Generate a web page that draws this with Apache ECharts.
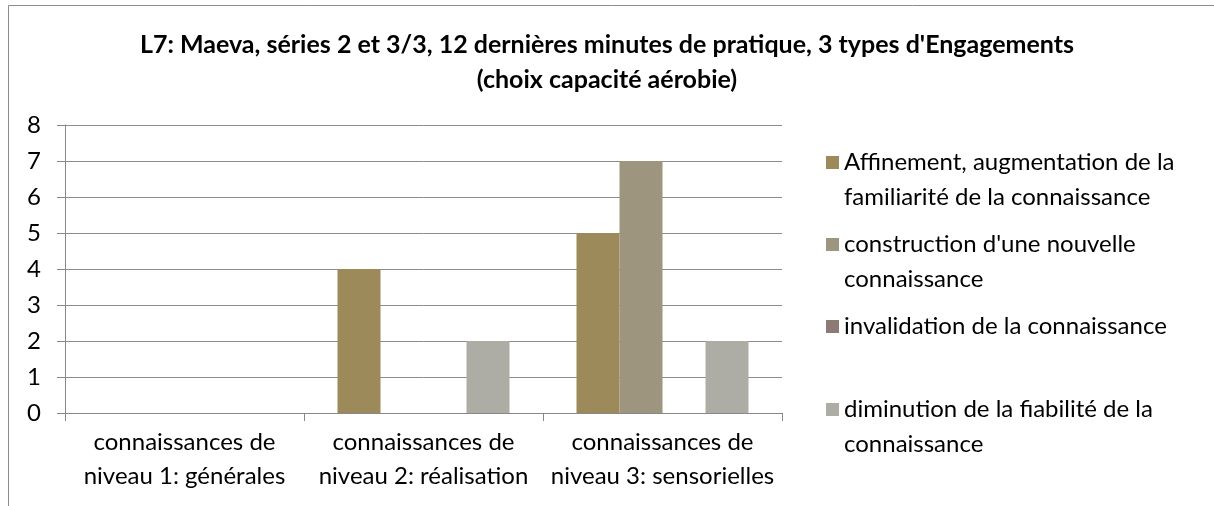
<!DOCTYPE html>
<html>
<head>
<meta charset="utf-8">
<script src="https://cdn.jsdelivr.net/npm/echarts@6/dist/echarts.min.js"></script>
<style>
  html, body { margin: 0; padding: 0; background: #fff; }
  #chart { width: 1214px; height: 506px; }
</style>
</head>
<body>
<div id="chart"></div>
<script>
// data
const categories = [
    'connaissances de\nniveau 1: générales',
    'connaissances de\nniveau 2: réalisation',
    'connaissances de\nniveau 3: sensorielles'
]
const seriesNames = [
    'Affinement, augmentation de la\nfamiliarité de la connaissance',
    'construction d\'une nouvelle\nconnaissance',
    'invalidation de la connaissance',
    'diminution de la fiabilité de la\nconnaissance'
]
const affinement = [0, 4, 5]
const construction = [0, 0, 7]
const invalidation = [0, 0, 0]
const diminution = [0, 2, 2]
const yTicks = [0, 1, 2, 3, 4, 5, 6, 7, 8]

const colorList = ['#9C8A5A', '#9D957E', '#8C7B74', '#ADADA6']
const values = [affinement, construction, invalidation, diminution]
const font = 'Lato'
const legendTops = [110, 192, 309, 357]

const chart = echarts.init(document.getElementById('chart'))

const series = values.map((v, i) => ({
    name: seriesNames[i],
    type: 'bar',
    data: v,
    barWidth: 43,
    barGap: '0%',
    itemStyle: { color: colorList[i] }
}))

// one legend per item so the single-line entry keeps the same spacing,
// an empty first line keeps the square beside the first line of text
const legends = seriesNames.map((n, i) => ({
    data: [n],
    orient: 'vertical',
    left: 826,
    top: legendTops[i],
    padding: 0,
    icon: 'rect',
    itemWidth: 13,
    itemHeight: 13,
    selectedMode: false,
    formatter: name => (name.indexOf('\n') >= 0 ? '\n' + name : name),
    textStyle: {
        fontFamily: font,
        fontSize: 24,
        color: '#000',
        lineHeight: 35
    }
}))

const option = {
    animation: false,
    color: colorList,
    title: {
        text: 'L7: Maeva, séries 2 et 3/3, 12 dernières minutes de pratique, 3 types d\'Engagements\n(choix capacité aérobie)',
        left: 'center',
        top: 27,
        padding: [0, 0, 0, 14],
        textStyle: {
            fontFamily: font,
            fontSize: 25,
            fontWeight: 'bold',
            color: '#000',
            lineHeight: 35,
            align: 'center'
        }
    },
    legend: legends,
    grid: { left: 65, right: 432, top: 125, bottom: 93 },
    xAxis: {
        type: 'category',
        data: categories,
        axisLine: { lineStyle: { color: '#888', width: 1 } },
        axisTick: { show: true, length: 8, lineStyle: { color: '#888' } },
        axisLabel: {
            fontFamily: font,
            fontSize: 24,
            color: '#000',
            lineHeight: 34,
            margin: 12,
            interval: 0
        }
    },
    yAxis: {
        type: 'value',
        min: yTicks[0],
        max: yTicks[yTicks.length - 1],
        interval: 1,
        axisLine: { show: true, lineStyle: { color: '#888', width: 1 } },
        axisTick: { show: true, length: 8, lineStyle: { color: '#888' } },
        axisLabel: {
            fontFamily: font,
            fontSize: 24,
            color: '#000',
            margin: 24
        },
        splitLine: { lineStyle: { color: '#8C8C8C', width: 1 } }
    },
    graphic: [
        {
            type: 'polyline',
            shape: { points: [[8.5, 506], [8.5, 5.5], [1214, 5.5]] },
            style: { stroke: '#8C8C8C', lineWidth: 1, fill: null },
            silent: true
        }
    ],
    series: series
}

chart.setOption(option)
</script>
</body>
</html>
